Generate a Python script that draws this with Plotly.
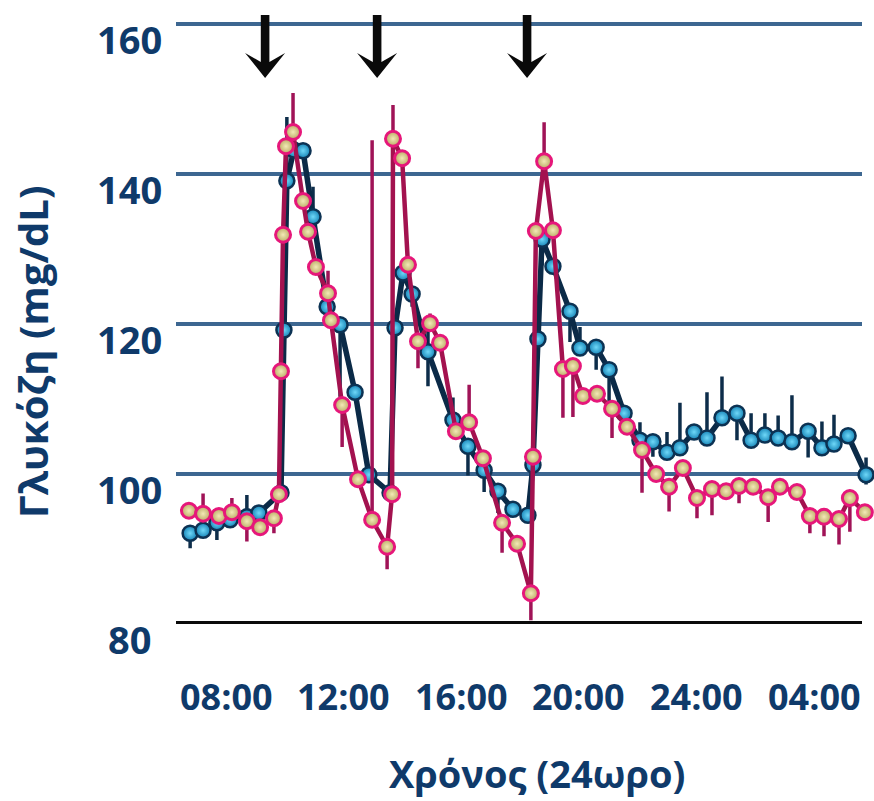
import plotly.graph_objects as go

# Time of day in hours (values past 24 are after midnight)
blue_t = [6.78, 7.22, 7.69, 8.14, 8.71, 9.12, 9.87, 9.97, 10.07, 10.31, 10.62, 10.96,
          11.44, 11.88, 12.39, 12.86, 13.58, 13.75, 14.02, 14.33, 14.87, 15.72, 16.23,
          16.78, 17.25, 17.76, 18.27, 18.44, 18.61, 18.75, 19.12, 19.70, 20.04, 20.59,
          21.03, 21.54, 22.08, 22.52, 23.00, 23.44, 23.92, 24.36, 24.87, 25.38, 25.86,
          26.33, 26.78, 27.25, 27.80, 28.27, 28.68, 29.16, 29.77]
blue_glucose = [92.1, 92.5, 93.5, 93.9, 94.3, 94.8, 97.5, 119.2, 139.1, 143.2, 143.1, 134.3,
                122.3, 119.9, 110.9, 99.9, 97.5, 119.5, 126.8, 124.0, 116.3, 107.2, 103.7,
                100.5, 97.7, 95.3, 94.5, 101.2, 118.0, 131.3, 127.7, 121.7, 116.8, 116.9,
                113.9, 108.1, 104.5, 104.3, 102.9, 103.5, 105.6, 104.8, 107.5, 108.1, 104.5,
                105.2, 104.8, 104.3, 105.7, 103.5, 104.0, 105.1, 99.9]
blue_err_up = [0, 0, 0, 0, 2.9, 0, 0, 0, 8.5, 0, 0, 4.0,
               0, 0, 0, 0, 0, 0, 0, 1.0, 4.5, 3.0, 0,
               0, 0, 0, 0, 0, 0, 0, 0, 0, 2.8, 0,
               0, 0, 2.4, 0, 2.7, 6.0, 0, 6.1, 5.5, 0, 3.6,
               2.9, 3.0, 6.2, 0, 3.5, 3.9, 0, 2.3]
blue_err_down = [2.0, 0, 2.3, 0, 0, 0, 0, 0, 0, 0, 0, 0,
                 0, 9.6, 0, 0, 0, 0, 0, 1.7, 4.6, 1.0, 3.9,
                 2.9, 2.9, 0, 0, 0, 0, 3.5, 0, 4.1, 0, 3.0,
                 4.9, 0, 0, 2.0, 0.8, 0, 0, 0, 0, 3.6, 0,
                 0, 0, 0, 3.5, 0, 0, 0, 1.3]

pink_t = [6.74, 7.22, 7.76, 8.20, 8.71, 9.16, 9.63, 9.80, 9.87, 9.94, 10.04, 10.28,
          10.62, 10.79, 11.06, 11.47, 11.57, 11.95, 12.49, 12.97, 13.48, 13.65, 13.68,
          13.99, 14.19, 14.53, 14.94, 15.28, 15.82, 16.27, 16.74, 17.39, 17.90, 18.37,
          18.44, 18.54, 18.82, 19.12, 19.46, 19.80, 20.14, 20.62, 21.13, 21.64, 22.15,
          22.63, 23.07, 23.54, 24.02, 24.53, 25.01, 25.45, 25.93, 26.44, 26.84, 27.42,
          27.86, 28.34, 28.85, 29.22, 29.73]
pink_glucose = [95.1, 94.7, 94.4, 94.9, 93.7, 92.9, 94.1, 97.3, 113.7, 131.9, 143.7, 145.6,
                136.4, 132.3, 127.6, 124.1, 120.5, 109.2, 99.3, 93.9, 90.3, 97.3, 144.7,
                142.1, 127.9, 117.7, 120.1, 117.5, 105.7, 106.9, 102.1, 93.5, 90.7, 84.1,
                102.3, 132.4, 141.7, 132.5, 114.0, 114.4, 110.4, 110.7, 108.7, 106.3, 103.2,
                100.0, 98.3, 100.8, 96.8, 98.0, 97.7, 98.4, 98.3, 96.9, 98.3, 97.6,
                94.4, 94.3, 94.0, 96.8, 94.9]
pink_err_up = [0, 2.7, 0, 1.9, 0, 0, 0, 0, 0, 0, 0, 5.2,
               0, 0, 0, 3.0, 0, 0, 0, 50.6, 0, 0, 4.5,
               0, 0, 0, 1.3, 0, 0, 5.0, 0, 0, 0, 0,
               0, 0, 5.2, 0, 0, 0, 0, 0, 0, 0, 0,
               0, 0, 0, 0, 0, 0, 0, 0, 0, 0, 0,
               0, 0, 0, 0, 0]
pink_err_down = [0, 0, 0, 0, 2.7, 0, 2.0, 0, 0, 0, 0, 0,
                 0, 0, 0, 0, 0, 5.6, 0, 0, 3.0, 0, 2.8,
                 0, 0, 3.6, 1.0, 0, 0, 0, 0, 4.0, 0, 3.6,
                 0, 0, 0, 0, 6.5, 6.8, 0, 0, 3.9, 0, 5.7,
                 0, 3.3, 0, 2.7, 3.5, 0, 2.3, 0, 3.3, 0, 0,
                 2.3, 2.6, 3.4, 4.5, 0]

meal_times = [9.33, 13.14, 18.24]

x_tick_hours = [8, 12, 16, 20, 24, 28]
x_tick_labels = ["08:00", "12:00", "16:00", "20:00", "24:00", "04:00"]
y_tick_values = [80, 100, 120, 140, 160]
y_tick_labels = ["80", "100", "120", "140", "160"]
grid_values = [100, 120, 140, 160]

NAVY_TEXT = "#0f3a6a"
FONT = "Open Sans"
# the gridlines stop a little short of the right edge of the plotting area
GRID_END = 0.9828

fig = go.Figure()

fig.add_trace(go.Scatter(
    x=blue_t, y=blue_glucose, mode="lines+markers",
    line=dict(color="#0b2a47", width=5.5),
    marker=dict(size=15, color="#1583b6",
                gradient=dict(type="radial", color="#6fd8f8"),
                line=dict(color="#0c3253", width=2.5)),
    error_y=dict(type="data", symmetric=False, array=blue_err_up,
                 arrayminus=blue_err_down, color="#0d2d4a", thickness=3.5, width=0),
    cliponaxis=False, showlegend=False, hoverinfo="x+y",
))

fig.add_trace(go.Scatter(
    x=pink_t, y=pink_glucose, mode="lines+markers",
    line=dict(color="#a3124f", width=4.5),
    marker=dict(size=15, color="#b9a862",
                gradient=dict(type="radial", color="#f3e9b6"),
                line=dict(color="#e6177a", width=3)),
    error_y=dict(type="data", symmetric=False, array=pink_err_up,
                 arrayminus=pink_err_down, color="#a01357", thickness=3.5, width=0),
    cliponaxis=False, showlegend=False, hoverinfo="x+y",
))

shapes = []
for g in grid_values:
    shapes.append(dict(type="line", xref="paper", x0=0, x1=GRID_END, yref="y", y0=g, y1=g,
                       line=dict(color="#3d6791", width=4), layer="below"))
shapes.append(dict(type="line", xref="paper", x0=0, x1=GRID_END, yref="y", y0=80, y1=80,
                   line=dict(color="#0a0a0a", width=6), layer="below"))
arrow_path = "M -4.3,9 L 4.3,9 L 4.3,-38 L 20,-29 L 0,-54 L -20,-29 L -4.3,-38 Z"
for t in meal_times:
    shapes.append(dict(type="path", xref="x", yref="y",
                       xsizemode="pixel", ysizemode="pixel",
                       xanchor=t, yanchor=160, path=arrow_path,
                       fillcolor="#0a0a0a", line=dict(width=0), layer="above"))

annotations = []
for v, lab in zip(y_tick_values, y_tick_labels):
    annotations.append(dict(text=lab, xref="paper", x=-0.0673, yref="y", y=v,
                            yshift=-15, xanchor="center", yanchor="middle", showarrow=False,
                            font=dict(family=FONT, size=38, color=NAVY_TEXT, weight="bold")))
for h, lab in zip(x_tick_hours, x_tick_labels):
    annotations.append(dict(text=lab, xref="x", x=h, yref="paper", y=0,
                            yshift=-72, xanchor="center", yanchor="middle", showarrow=False,
                            font=dict(family=FONT, size=36, color=NAVY_TEXT, weight="bold")))
annotations.append(dict(text="Γλυκόζη (mg/dL)", xref="paper", x=-0.2049, yref="paper", y=0.4359,
                        textangle=-90, xanchor="center", yanchor="middle", showarrow=False,
                        font=dict(family=FONT, size=40, color=NAVY_TEXT, weight="bold")))
annotations.append(dict(text="Χρόνος (24ωρο)", xref="paper", x=0.5172, yref="paper", y=0,
                        yshift=-149, xanchor="center", yanchor="middle", showarrow=False,
                        font=dict(family=FONT, size=38, color=NAVY_TEXT, weight="bold")))

fig.update_layout(
    width=874, height=801,
    margin=dict(l=176, r=0, t=0, b=177, pad=0),
    paper_bgcolor="white", plot_bgcolor="white",
    xaxis=dict(range=[6.2993, 30.0408], showgrid=False, zeroline=False,
               showticklabels=False, showline=False, ticks=""),
    yaxis=dict(range=[80, 163.2], showgrid=False, zeroline=False,
               showticklabels=False, showline=False, ticks=""),
    shapes=shapes, annotations=annotations,
)

fig.write_html("out.html")
